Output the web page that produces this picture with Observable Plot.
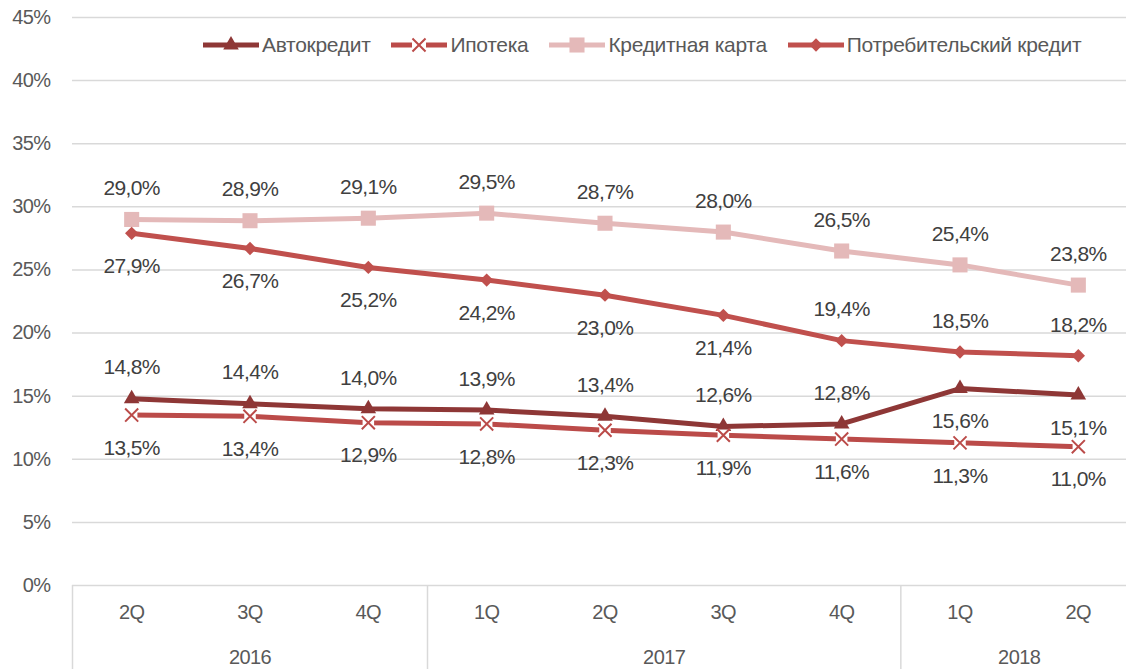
<!DOCTYPE html>
<html>
<head>
<meta charset="utf-8">
<script src="https://cdn.jsdelivr.net/npm/d3@7"></script>
<script src="https://cdn.jsdelivr.net/npm/@observablehq/plot@0.6"></script>
<style>
  body { margin: 0; background: #fff; }
  #wrap { position: relative; width: 1126px; height: 669px; overflow: hidden; font-family: "Liberation Sans", Arial, sans-serif; }
  #wrap svg text { letter-spacing: -0.6px; }
  #legend { position: absolute; top: 33px; left: 203px; display: flex; align-items: center; gap: 21px; font-size: 21px; letter-spacing: -0.3px; color: #595959; white-space: nowrap; }
  #legend .item { display: flex; align-items: center; gap: 3px; }
</style>
</head>
<body>
<div id="wrap"><div id="legend"></div></div>
<script>
// ---- data ----
const quarters = ["2Q", "3Q", "4Q", "1Q", "2Q", "3Q", "4Q", "1Q", "2Q"];
const years = ["2016", "2016", "2016", "2017", "2017", "2017", "2017", "2018", "2018"];
const seriesNames = ["Автокредит", "Ипотека", "Кредитная карта", "Потребительский кредит"];
const autoLoan = [14.8, 14.4, 14.0, 13.9, 13.4, 12.6, 12.8, 15.6, 15.1];
const mortgage = [13.5, 13.4, 12.9, 12.8, 12.3, 11.9, 11.6, 11.3, 11.0];
const creditCard = [29.0, 28.9, 29.1, 29.5, 28.7, 28.0, 26.5, 25.4, 23.8];
const consumer = [27.9, 26.7, 25.2, 24.2, 23.0, 21.4, 19.4, 18.5, 18.2];
const yTicks = [0, 5, 10, 15, 20, 25, 30, 35, 40, 45];

// ---- styles ----
const style = {
  "Автокредит": {color: "#8e3736", symbol: "triangle", r: 5.8, below: [7, 8]},
  "Ипотека": {color: "#bb4b49", symbol: "times", r: 6, below: [0,1,2,3,4,5,6,7,8]},
  "Кредитная карта": {color: "#e4b9b9", symbol: "square", r: 8.5, below: []},
  "Потребительский кредит": {color: "#c0504d", symbol: "diamond2", r: 6, below: [0,1,2,3,4,5]}
};
const values = [autoLoan, mortgage, creditCard, consumer];
const rows = [];
seriesNames.forEach((s, k) => values[k].forEach((v, i) => rows.push({series: s, i, v, below: style[s].below.includes(i)})));
const fmt = v => v.toFixed(1).replace(".", ",") + "%";

// separators between year groups (band edges)
const seps = [-0.5];
years.forEach((y, i) => { if (i > 0 && y !== years[i - 1]) seps.push(i - 0.5); });
const yearGroups = Array.from(d3.group(years.map((y, i) => ({y, i})), d => d.y), ([y, arr]) => ({year: y, c: d3.mean(arr, d => d.i)}));
const qRows = quarters.map((q, i) => ({q, i}));

const marks = [
  Plot.gridY(yTicks, {stroke: "#d9d9d9", strokeOpacity: 1, strokeWidth: 1.5}),
  Plot.axisY(yTicks, {tickSize: 0, tickPadding: 22, tickFormat: d => d + "%", fontSize: 20, fill: "#595959", label: null}),
  Plot.ruleX(seps, {x: d => d, y1: 0, y2: 0, insetBottom: -84, stroke: "#d9d9d9", strokeWidth: 1.5}),
  Plot.text(qRows, {x: "i", y: () => 0, text: "q", dy: 27, fontSize: 20, fill: "#595959"}),
  Plot.text(yearGroups, {x: "c", y: () => 0, text: "year", dy: 72, fontSize: 20, fill: "#595959"})
];
for (const s of seriesNames) {
  const st = style[s];
  const data = rows.filter(d => d.series === s);
  marks.push(Plot.line(data, {x: "i", y: "v", stroke: st.color, strokeWidth: 5}));
  if (st.symbol === "times") {
    marks.push(Plot.dot(data, {x: "i", y: "v", symbol: "square", r: 6.5, fill: "white"}));
    marks.push(Plot.dot(data, {x: "i", y: "v", symbol: "times", r: st.r, stroke: st.color, strokeWidth: 2}));
  } else {
    marks.push(Plot.dot(data, {x: "i", y: "v", symbol: st.symbol, r: st.r, fill: st.color}));
  }
}
marks.push(Plot.text(rows.filter(d => !d.below), {x: "i", y: "v", text: d => fmt(d.v), dy: -31, fontSize: 21, fill: "#404040"}));
marks.push(Plot.text(rows.filter(d => d.below), {x: "i", y: "v", text: d => fmt(d.v), dy: 33, fontSize: 21, fill: "#404040"}));

const chart = Plot.plot({
  width: 1126,
  height: 669,
  marginTop: 17,
  marginBottom: 84,
  marginLeft: 72,
  marginRight: -11,
  style: {fontFamily: "'Liberation Sans', Arial, sans-serif", overflow: "hidden"},
  x: {type: "linear", domain: [-0.5, quarters.length - 0.5], axis: null},
  y: {domain: [0, 45], axis: null},
  symbol: {type: "identity"},
  marks
});
document.getElementById("wrap").prepend(chart);

// legend
const legend = document.getElementById("legend");
const symbolPath = {triangle: d3.symbolTriangle, square: d3.symbolSquare, diamond2: d3.symbolDiamond2, times: d3.symbolTimes};
for (const s of seriesNames) {
  const st = style[s];
  const item = document.createElement("div");
  item.className = "item";
  const sw = d3.create("svg").attr("width", 56).attr("height", 20);
  sw.append("line").attr("x1", 0).attr("x2", 56).attr("y1", 10).attr("y2", 10).attr("stroke", st.color).attr("stroke-width", 5);
  const p = d3.symbol(symbolPath[st.symbol], Math.PI * st.r * st.r)();
  if (st.symbol === "times") {
    sw.append("rect").attr("x", 21).attr("y", 3).attr("width", 14).attr("height", 14).attr("fill", "white");
    sw.append("path").attr("d", p).attr("transform", "translate(28,10)").attr("stroke", st.color).attr("stroke-width", 2).attr("fill", "none");
  } else {
    sw.append("path").attr("d", p).attr("transform", "translate(28,10)").attr("fill", st.color);
  }
  item.appendChild(sw.node());
  const t = document.createElement("span");
  t.textContent = s;
  item.appendChild(t);
  legend.appendChild(item);
}
</script>
</body>
</html>
